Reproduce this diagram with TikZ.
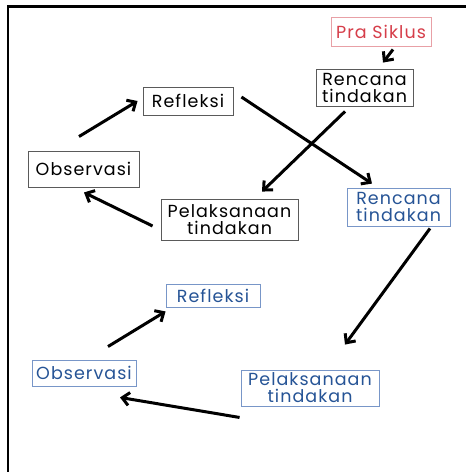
\documentclass[tikz,border=0pt]{standalone}
\usepackage{fontspec}
\setmainfont{Poppins}[LetterSpace=6]
\usetikzlibrary{arrows.meta}
\definecolor{redtxt}{RGB}{214,62,74}
\definecolor{redbd}{RGB}{232,160,166}
\definecolor{bluetxt}{RGB}{38,84,150}
\definecolor{bluebd}{RGB}{120,150,200}
\definecolor{blackbd}{RGB}{90,90,90}
\tikzset{
  box/.style={draw=blackbd, line width=0.9pt, inner sep=0pt, align=center, font=\fontsize{17.5}{17}\selectfont},
  bbox/.style={box, draw=bluebd, text=bluetxt},
  rbox/.style={box, draw=redbd, text=redtxt},
  arr/.style={line width=3pt, -{Straight Barb[length=7pt,width=13pt,line width=3pt]}}
}
\begin{document}
\begin{tikzpicture}[x=1pt,y=-1pt]
\useasboundingbox (0,0) rectangle (466,472);
\fill[white] (0,0) rectangle (466,472);
\draw[line width=2.2pt, line cap=rect] (466,6.5) -- (8,6.5) -- (8,472);
\node[rbox, minimum width=100pt, minimum height=29pt] (pra) at (381,31.5) {Pra Siklus};
\node[box, minimum width=97pt, minimum height=37pt] (r1) at (364.5,87.5) {Rencana\\tindakan};
\node[box, minimum width=90pt, minimum height=28pt] (f1) at (188,101) {Refleksi};
\node[box, minimum width=111pt, minimum height=36pt] (o1) at (83.5,169) {Observasi};
\node[box, minimum width=137pt, minimum height=41pt] (p1) at (229.5,219.5) {Pelaksanaan\\tindakan};
\node[bbox, minimum width=103pt, minimum height=38pt] (r2) at (398.5,207) {Rencana\\tindakan};
\node[bbox, minimum width=94pt, minimum height=23pt] (f2) at (213,295.5) {Refleksi};
\node[bbox, minimum width=104pt, minimum height=26pt] (o2) at (84,373) {Observasi};
\node[bbox, minimum width=138pt, minimum height=36pt] (p2) at (310,388) {Pelaksanaan\\tindakan};
\draw[arr] ([shift={(12,3)}]pra.south) -- ([shift={(18.5,-6)}]r1.north);
\draw[arr] ([shift={(-19.5,5)}]r1.south) -- ([shift={(32.5,-7)}]p1.north);
\draw[arr] ([shift={(8,-4)}]f1.east) -- ([shift={(-26.5,-4)}]r2.north);
\draw[arr] ([shift={(-4.5,-14)}]o1.north) -- ([shift={(-5,0)}]f1.west);
\draw[arr] ([shift={(-8,6.5)}]p1.west) -- ([shift={(0.5,5)}]o1.south);
\draw[arr] ([shift={(31.5,2)}]r2.south) -- ([shift={(35,-25)}]p2.north);
\draw[arr] ([shift={(24,-13)}]o2.north) -- ([shift={(0,4)}]f2.south west);
\draw[arr] ([shift={(-1,11)}]p2.south west) -- ([shift={(36,11)}]o2.south);
\end{tikzpicture}
\end{document}
